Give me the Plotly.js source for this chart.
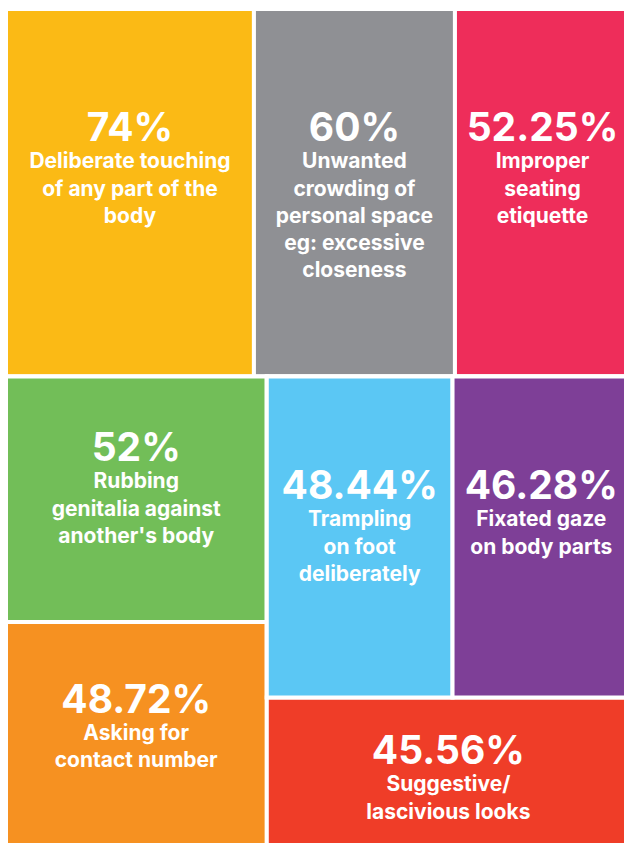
<!DOCTYPE html>
<html>
<head>
<meta charset="utf-8">
<script src="https://cdn.plot.ly/plotly-3.0.1.min.js"></script>
<style>
  html, body { margin: 0; padding: 0; overflow: hidden; background: #ffffff; }
  #chart { width: 630px; height: 852px; }
</style>
</head>
<body>
<div id="chart"></div>
<script>
// Leaf categories (percent of respondents) and their labels
const percents = ["74%", "60%", "52.25%", "52%", "48.72%", "48.44%", "46.28%", "45.56%"];
const values = [74, 60, 52.25, 52, 48.72, 48.44, 46.28, 45.56];
const labels = [
  "Deliberate touching<br>of any part of the<br>body",
  "Unwanted<br>crowding of<br>personal space<br>eg: excessive<br>closeness",
  "Improper<br>seating<br>etiquette",
  "Rubbing<br>genitalia against<br>another's body",
  "Asking for<br>contact number",
  "Trampling<br>on foot<br>deliberately",
  "Fixated gaze<br>on body parts",
  "Suggestive/<br>lascivious looks"
];
const leafIds = ["touch", "crowd", "seat", "rub", "contact", "trample", "gaze", "looks"];
const leafParents = ["top", "top", "top", "left", "left", "upper", "upper", "right"];
const colors = ["#FBBA15", "#8F9094", "#EE2D5A", "#72BE58", "#F69121", "#5BC7F4", "#7E3F97", "#EF3D28"];
// blank trailing lines that lift each label block inside its tile (layout only)
const lift = [2, 0, 2, 1, 1, 1, 2, 0];

// Grouping nodes that give the arrangement of the tiles
const groupIds = ["top", "bottom", "left", "right", "upper"];
const groupParents = ["", "", "bottom", "bottom", "right"];

const ids = groupIds.concat(leafIds);
const parents = groupParents.concat(leafParents);
const allValues = groupIds.map(() => 0).concat(values);
const texts = groupIds.map(() => "").concat(
  percents.map((p, i) => '<span style="font-size:39px">' + p + '</span><br>' + labels[i] +
    "<br>\u00a0".repeat(lift[i]))
);
const allColors = groupIds.map(() => "#ffffff").concat(colors);

const trace = {
  type: "treemap",
  ids: ids,
  labels: ids,
  parents: parents,
  values: allValues,
  branchvalues: "remainder",
  sort: false,
  text: texts,
  textinfo: "text",
  textposition: "middle center",
  textfont: { family: "Inter, Lato, sans-serif", size: 21, color: "#ffffff", weight: 700 },
  marker: {
    colors: allColors,
    line: { color: "#ffffff", width: 4 },
    pad: { t: 0, l: 0, r: 0, b: 0 }
  },
  leaf: { opacity: 1 },
  tiling: { packing: "dice-slice", pad: 0 },
  pathbar: { visible: false },
  hoverinfo: "none"
};

const layout = {
  width: 630,
  height: 852,
  margin: { l: 6, t: 9, r: 0, b: 0 },
  paper_bgcolor: "#ffffff",
  showlegend: false
};

Plotly.newPlot("chart", [trace], layout, { displayModeBar: false, staticPlot: true });
</script>
</body>
</html>
